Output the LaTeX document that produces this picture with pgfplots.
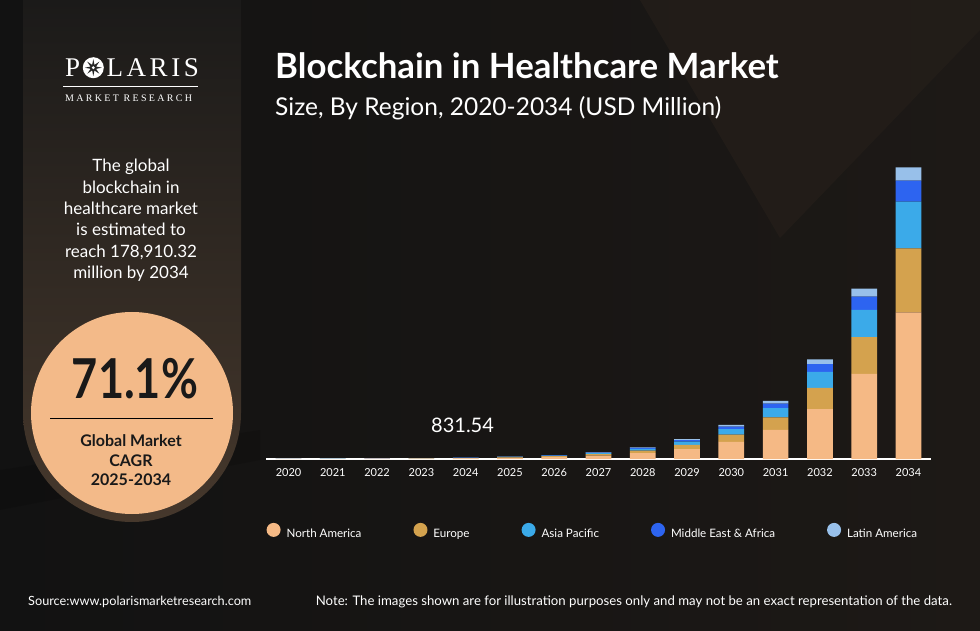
\documentclass[border=0pt]{standalone}
\usepackage{fontspec}
\setmainfont{Lato}
\newfontfamily\logofont[LetterSpace=13]{Liberation Serif}
\newfontfamily\logosmall[LetterSpace=23]{Liberation Serif}
\usepackage{pgfplots}
\pgfplotsset{compat=1.18}
\definecolor{na}{HTML}{F5B985}
\definecolor{eu}{HTML}{D4A24E}
\definecolor{ap}{HTML}{3BAAE9}
\definecolor{mea}{HTML}{2D64F0}
\definecolor{la}{HTML}{98C0EA}
\definecolor{bgL}{HTML}{121212}
\definecolor{bgR}{HTML}{1D1916}
\definecolor{vshape}{HTML}{241E19}
\definecolor{panelT}{HTML}{1B1A19}
\definecolor{panelB}{HTML}{46382C}
\definecolor{circ}{HTML}{F3BA89}
\begin{document}
\begin{tikzpicture}[x=1pt,y=1pt]
\path[use as bounding box] (0,0) rectangle (980,630);
\shade[left color=bgL, right color=bgR] (0,0) rectangle (980,630);
\fill[vshape, opacity=0.8] (640,630) -- (780,392) -- (980,600) -- (980,630) -- cycle;
\fill[black, opacity=0.12] (0,160) -- (260,200) -- (260,170) -- (0,120) -- cycle;
% left panel
\shade[top color=panelT, bottom color=panelB] (23,630) -- (23,217) arc[start angle=180, end angle=360, radius=109] -- (241,630) -- cycle;
\fill[circ] (132,217) circle (101);
% logo
\node[anchor=base west, text=white, inner sep=0pt, font=\logofont\fontsize{27}{27}\selectfont] at (65,553.3) {POLARIS};
\begin{scope}[shift={(93.3,562.3)}]
\fill[white] (0,0) circle (10.5);
\fill[black!85] (90:8.5) \foreach \a in {1,...,15} { -- ({90+\a*22.5}:{ifthenelse(mod(\a,2)==0,8.5,3)}) } -- cycle;
\fill[white] (0,0) circle (1.6);
\end{scope}
\draw[white!75, line width=0.8pt] (63,543.3) -- (198,543.3);
\node[anchor=base west, text=white!90, inner sep=0pt, font=\logosmall\fontsize{10}{10}\selectfont] at (65,528.3) {MARKET RESEARCH};
% left text
\foreach \t [count=\i from 0] in {The global, blockchain in, healthcare market, is estimated to, {reach 178,910.32}, million by 2034} {
  \node[anchor=base, text=white, inner sep=0pt, font=\fontsize{17}{17}\selectfont] at (131,{458-21.3*\i}) {\t};
}
\node[anchor=base, text=black!90, inner sep=0pt] at (135,231.7) {\scalebox{0.82}[1]{\fontsize{55}{55}\selectfont\bfseries 71.1\%}};
\draw[black, line width=0.9pt] (50,211.7) -- (213,211.7);
\node[anchor=base, text=black!90, inner sep=0pt, font=\fontsize{16}{16}\selectfont\bfseries] at (131,183.3) {Global Market};
\node[anchor=base, text=black!90, inner sep=0pt, font=\fontsize{16}{16}\selectfont\bfseries] at (131,163.8) {CAGR};
\node[anchor=base, text=black!90, inner sep=0pt, font=\fontsize{16}{16}\selectfont\bfseries] at (131,144.3) {2025-2034};
% titles
\node[anchor=base west, text=white, inner sep=0pt, font=\fontsize{34.8}{34.8}\selectfont\bfseries] at (275,551.5) {Blockchain in Healthcare Market};
\node[anchor=base west, text=white, inner sep=0pt, font=\fontsize{24.5}{24.5}\selectfont] at (275,514) {Size, By Region, 2020-2034 (USD Million)};
% footer
\node[anchor=base west, text=white!92, inner sep=0pt, font=\fontsize{12.7}{12.7}\selectfont] at (28,25) {Source:www.polarismarketresearch.com};
\node[anchor=base west, text=white!92, inner sep=0pt, font=\fontsize{13.2}{13.2}\selectfont] at (315.6,25) {Note: The images shown are for illustration purposes only and may not be an exact representation of the data.};
\begin{axis}[
  at={(266.4pt,171pt)}, anchor=south west, scale only axis,
  width=664.2pt, height=309.8pt,
  xmin=-0.5, xmax=14.5, ymin=0, ymax=190000,
  ybar stacked, bar width=25.7pt,
  axis x line*=bottom, axis y line=none,
  x axis line style={white, line width=1.6pt},
  xtick={0,...,14},
  xticklabels={2020,2021,2022,2023,2024,2025,2026,2027,2028,2029,2030,2031,2032,2033,2034},
  major tick length=0pt,
  xticklabel style={font=\fontsize{11}{11}\selectfont, text=white, anchor=base, yshift=-17pt},
  clip=false,
  legend columns=5,
  legend image code/.code={\fill[#1] (7pt,4.2pt) circle (7pt);},
  legend style={at={(0,-0.2324)}, anchor=west, draw=none, fill=none, text=white,
    font=\fontsize{11.6}{11.6}\selectfont, inner sep=0pt,
    nodes={inner sep=0pt},
    /tikz/every odd column/.append style={column sep=6pt},
    /tikz/every even column/.append style={column sep=52pt}},
]
\addplot[fill=na, draw=none] coordinates {(0,60.0) (1,100.0) (2,165.0) (3,265.0) (4,415.77) (5,711.5) (6,1217.5) (7,2083.0) (8,3564.0) (9,6098.5) (10,10434.5) (11,17853.5) (12,30547.5) (13,52267.0) (14,89980.0)};
\addplot[fill=eu, draw=none] coordinates {(0,25.8) (1,43.0) (2,70.95) (3,113.95) (4,178.78) (5,305.9) (6,523.5) (7,895.7) (8,1532.5) (9,2622.4) (10,4486.8) (11,7677.0) (12,13135.4) (13,22474.8) (14,39250.0)};
\addplot[fill=ap, draw=none] coordinates {(0,19.2) (1,32.0) (2,52.8) (3,84.8) (4,133.05) (5,227.7) (6,389.6) (7,666.6) (8,1140.5) (9,1951.5) (10,3339.0) (11,5713.1) (12,9775.2) (13,16725.4) (14,28580.0)};
\addplot[fill=mea, draw=none] coordinates {(0,9.36) (1,15.6) (2,25.74) (3,41.34) (4,64.86) (5,111.0) (6,189.9) (7,324.9) (8,556.0) (9,951.4) (10,1627.8) (11,2785.1) (12,4765.4) (13,8153.7) (14,12880.0)};
\addplot[fill=la, draw=none] coordinates {(0,5.64) (1,9.4) (2,15.51) (3,24.91) (4,39.08) (5,66.9) (6,114.5) (7,195.8) (8,335.0) (9,573.3) (10,980.8) (11,1678.2) (12,2871.5) (13,4913.1) (14,8220.32)};
\legend{North America, Europe, Asia Pacific, Middle East \& Africa, Latin America}
\node[anchor=base, text=white, inner sep=0pt, font=\fontsize{20}{20}\selectfont] at (axis cs:3.93,0) [yshift=26.3pt] {831.54};
\end{axis}
\end{tikzpicture}
\end{document}
